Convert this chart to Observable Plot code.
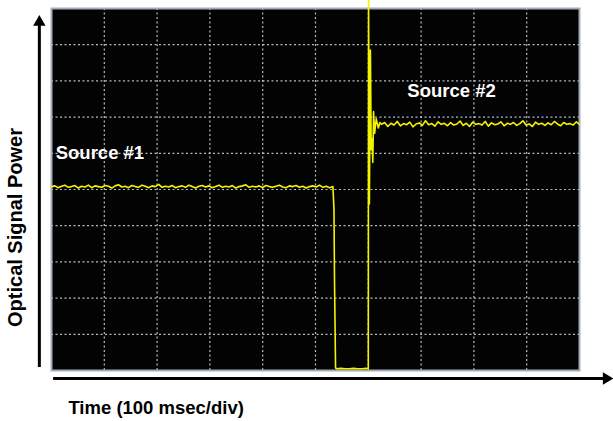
<!DOCTYPE html>
<html>
<head>
<meta charset="utf-8">
<script src="https://cdn.jsdelivr.net/npm/d3@7"></script>
<script src="https://cdn.jsdelivr.net/npm/@observablehq/plot@0.6"></script>
<style>
  html, body { margin: 0; padding: 0; background: #ffffff; }
  #chart svg { display: block; }
</style>
</head>
<body>
<div id="chart"></div>
<script>
// ---- Data (values in screen divisions) ----
// Source #1 steady level (noisy), from t = 0 to the drop
const level1 = [5.08,5.10,5.05,5.09,5.12,5.06,5.08,5.11,5.04,5.09,5.07,5.12,5.05,5.10,5.08,5.06,5.11,5.09,5.04,5.10,5.13,5.07,5.09,5.05,5.11,5.08,5.06,5.12,5.09,5.05,5.10,5.08,5.14,5.06,5.09,5.07,5.11,5.05,5.08,5.10,5.06,5.12,5.08,5.04,5.09,5.11,5.07,5.10,5.05,5.08,5.12,5.06,5.09,5.07,5.11,5.04,5.08,5.10,5.13,5.06,5.09,5.07,5.10,5.05,5.11,5.08,5.06,5.09,5.12,5.07,5.05,5.10,5.08,5.11,5.06,5.09,5.04,5.08,5.10,5.07,5.12,5.06,5.09,5.05,5.08];
const level1Start = 0, level1End = 5.33;
// Switching gap: drop to zero and flat bottom
const dropT = [5.35, 5.36, 5.38, 5.40, 5.48, 5.56, 5.64, 5.72, 5.80, 5.88, 5.96, 6.00];
const dropV = [4.45, 2.50, 0.07, 0.05, 0.06, 0.05, 0.05, 0.06, 0.05, 0.05, 0.06, 0.05];
// Rise with overshoot spike and ringing
const riseT = [6.005, 6.02, 6.04, 6.055, 6.07, 6.085, 6.10, 6.12, 6.15, 6.19, 6.22];
const riseV = [10.25, 4.60, 8.85, 6.10, 6.40, 5.75, 7.15, 6.55, 6.95, 6.70, 6.85];
// Source #2 steady level (noisy)
const level2 = [6.80,6.85,6.74,6.83,6.78,6.88,6.76,6.82,6.79,6.86,6.73,6.81,6.84,6.77,6.90,6.79,6.82,6.75,6.87,6.80,6.83,6.76,6.85,6.78,6.81,6.89,6.77,6.83,6.74,6.86,6.80,6.82,6.78,6.88,6.75,6.84,6.79,6.81,6.87,6.76,6.83,6.80,6.85,6.77,6.82,6.90,6.78,6.81,6.74,6.86,6.80,6.83,6.77,6.84,6.79,6.88,6.81,6.76,6.85,6.80,6.82,6.78,6.87,6.80];
const level2Start = 6.25, level2End = 10;

// Grid divisions
const divisions = [1,2,3,4,5,6,7,8,9];

// Labels
const sourceLabels = [
  {t: 0.08, v: 6.00, text: "Source #1"},
  {t: 6.74, v: 7.73, text: "Source #2"}
];
const xTitle = "Time (100 msec/div)";
const yTitle = "Optical Signal Power";

// ---- Build trace ----
const trace = [];
level1.forEach((v, i) => trace.push({t: level1Start + i * (level1End - level1Start) / (level1.length - 1), v}));
dropT.forEach((t, i) => trace.push({t, v: dropV[i]}));
riseT.forEach((t, i) => trace.push({t, v: riseV[i]}));
level2.forEach((v, i) => trace.push({t: level2Start + i * (level2End - level2Start) / (level2.length - 1), v}));

// Axis arrow placement (data units, outside the graticule)
const yArrowT = -0.23, yArrowFrom = 0.08, yArrowTip = 9.62;
const xArrowV = -0.22, xArrowFrom = 0.04, xArrowTip = 10.51;

const font = "'Liberation Sans', Arial, Helvetica, sans-serif";

const chart = Plot.plot({
  width: 613,
  height: 421,
  marginLeft: 51,
  marginRight: 34,
  marginTop: 8,
  marginBottom: 51,
  style: {background: "#ffffff", fontFamily: font, overflow: "visible"},
  x: {domain: [0, 10], axis: null},
  y: {domain: [0, 10], axis: null},
  marks: [
    Plot.frame({fill: "#030303"}),
    Plot.gridX(divisions, {stroke: "#c9d2de", strokeOpacity: 0.9, strokeWidth: 1.2, strokeDasharray: "2,2.5"}),
    Plot.gridY(divisions, {stroke: "#c9d2de", strokeOpacity: 0.9, strokeWidth: 1.2, strokeDasharray: "2,2.5"}),
    Plot.frame({stroke: "#a3adb9", strokeWidth: 2}),
    Plot.line(trace, {x: "t", y: "v", stroke: "#f4f400", strokeWidth: 1.6, curve: "linear"}),
    Plot.text(sourceLabels, {x: "t", y: "v", text: "text", fill: "#ffffff", fontSize: 18.5, fontWeight: "bold", textAnchor: "start"}),
    // Y axis arrow
    Plot.ruleX([yArrowT], {y1: yArrowFrom, y2: yArrowTip, stroke: "#000", strokeWidth: 3}),
    Plot.dot([{t: yArrowT, v: yArrowTip}], {x: "t", y: "v", symbol: "triangle", r: 4.6, fill: "#000", stroke: "none"}),
    // X axis arrow
    Plot.ruleY([xArrowV], {x1: xArrowFrom, x2: xArrowTip, stroke: "#000", strokeWidth: 3}),
    Plot.dot([{t: xArrowTip, v: xArrowV}], {x: "t", y: "v", symbol: "triangle", r: 4.6, rotate: 90, fill: "#000", stroke: "none"}),
    // Titles
    Plot.text([xTitle], {x: 0.32, y: -1.05, text: d => d, fill: "#000", fontSize: 18.5, fontWeight: "bold", textAnchor: "start"}),
    Plot.text([yTitle], {x: -0.68, y: 3.95, text: d => d, fill: "#000", fontSize: 20, fontWeight: "bold", rotate: -90})
  ]
});
document.getElementById("chart").appendChild(chart);
</script>
</body>
</html>
